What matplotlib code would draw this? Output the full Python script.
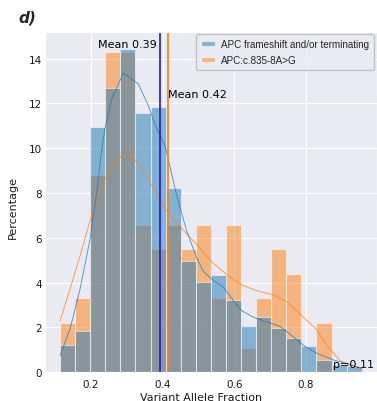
import numpy as np
import matplotlib
matplotlib.use("Agg")
import matplotlib.pyplot as plt
import seaborn as sns
from matplotlib.patches import Patch

sns.set_style("darkgrid")
plt.rcParams['font.family'] = ['DejaVu Sans']

# ---------------- data ----------------
series_names = ["APC frameshift and/or terminating", "APC:c.835-8A>G"]
bin_lo, bin_hi, n_bins = 0.1137, 0.9564, 20

frameshift_pct = [1.23, 1.86, 10.94, 12.69, 14.43, 11.56, 11.86, 8.23, 4.97, 4.05,
                  4.36, 3.22, 2.08, 2.45, 1.98, 1.53, 1.16, 0.56, 0.31, 0.29]
splice_pct = [2.20, 3.30, 8.79, 14.29, 14.29, 6.59, 5.49, 6.59, 5.49, 6.59,
              3.30, 6.59, 1.10, 3.30, 5.49, 4.40, 0.00, 2.20, 0.00, 0.00]

frameshift_kde_x = [0.1137, 0.1416, 0.1696, 0.1975, 0.2162, 0.2302, 0.2394, 0.2581,
                    0.2905, 0.3324, 0.3603, 0.3791, 0.4070, 0.4397, 0.4676, 0.4955,
                    0.5140, 0.5419, 0.5698, 0.5978, 0.6212, 0.6536, 0.6911, 0.7282,
                    0.7561, 0.7980, 0.8307, 0.8771, 0.9564]
frameshift_kde_y = [0.74, 1.93, 3.72, 5.95, 8.04, 9.97, 10.9, 12.2,
                    13.36, 12.87, 11.9, 11.05, 10.1, 7.88, 6.3, 5.1,
                    4.5, 4.1, 3.8, 3.2, 2.75, 2.46, 2.25, 2.05,
                    1.7, 1.15, 0.85, 0.55, 0.18]

splice_kde_x = [0.1137, 0.1416, 0.1696, 0.1975, 0.2254, 0.2534, 0.2905, 0.3184,
                0.3511, 0.3791, 0.4117, 0.4489, 0.4955, 0.5327, 0.5838, 0.6212,
                0.6631, 0.7095, 0.7469, 0.7841, 0.8307, 0.8587, 0.8958, 0.9564]
splice_kde_y = [2.3, 3.72, 5.2, 6.77, 8.18, 9.08, 9.75, 9.6,
                8.85, 8.1, 7.2, 6.5, 5.7, 5.0, 4.3, 3.9,
                3.64, 3.45, 3.15, 2.6, 1.9, 1.2, 0.52, 0.15]

mean_values = [0.393, 0.416]
p_value = 0.11

# ---------------- plot ----------------
blue = "#1f77b4"
orange = "#ff7f0e"

fig = plt.figure(figsize=(3.77, 4.02), dpi=100)
ax = fig.add_axes([45 / 377, 1 - 373.3 / 402, 331.8 / 377, 340.3 / 402])

edges = np.linspace(bin_lo, bin_hi, n_bins + 1)
widths = np.diff(edges)

ax.bar(edges[:-1], splice_pct, width=widths, align="edge", color=orange,
       alpha=0.5, edgecolor="white", linewidth=0.8)
ax.bar(edges[:-1], frameshift_pct, width=widths, align="edge", color=blue,
       alpha=0.5, edgecolor="white", linewidth=0.8)

ax.plot(splice_kde_x, splice_kde_y, color=orange, lw=0.7, alpha=0.7)
ax.plot(frameshift_kde_x, frameshift_kde_y, color=blue, lw=0.7, alpha=0.7)

ax.axvline(mean_values[0], color="#1a1ae6", lw=1.2)
ax.axvline(mean_values[1], color=orange, lw=1.2)

ax.text(mean_values[0] - 0.008, 14.66, f"Mean {mean_values[0]:.2f}", ha="right",
        va="center", fontsize=8, color="black")
ax.text(mean_values[1], 12.42, f"Mean {mean_values[1]:.2f}", ha="left",
        va="center", fontsize=8, color="black")
ax.text(0.876, 0.37, f"p={p_value:.2f}", ha="left", va="center", fontsize=8,
        color="black")

ax.set_xlim(0.0716, 0.9985)
ax.set_ylim(0, 15.19)
ax.set_xticks([0.2, 0.4, 0.6, 0.8])
ax.set_yticks(np.arange(0, 15, 2))
ax.tick_params(axis="both", labelsize=7.5, length=0, labelcolor="0.1")
ax.tick_params(axis="y", pad=2)
ax.tick_params(axis="x", pad=4.5)

ax.set_xlabel("Variant Allele Fraction", fontsize=8, color="0.1")
ax.set_ylabel("Percentage", fontsize=8, color="0.1")
ax.xaxis.set_label_coords(0.469, -0.058)
ax.yaxis.set_label_coords(-0.081, 0.486)

handles = [Patch(facecolor=blue, alpha=0.5), Patch(facecolor=orange, alpha=0.5)]
leg = ax.legend(handles, series_names, loc="upper right",
                prop={"family": "Liberation Sans", "size": 7.1},
                handlelength=1.5, handleheight=0.4, handletextpad=0.6,
                borderaxespad=0.25, borderpad=0.5, labelspacing=0.55,
                frameon=True, framealpha=0.8)
leg.get_frame().set_edgecolor("0.72")

fig.text(18 / 377, 1 - 18 / 402, "d)", fontsize=11, fontweight="bold",
         fontstyle="italic", ha="left", va="center")

fig.savefig("out.png", dpi=100)
